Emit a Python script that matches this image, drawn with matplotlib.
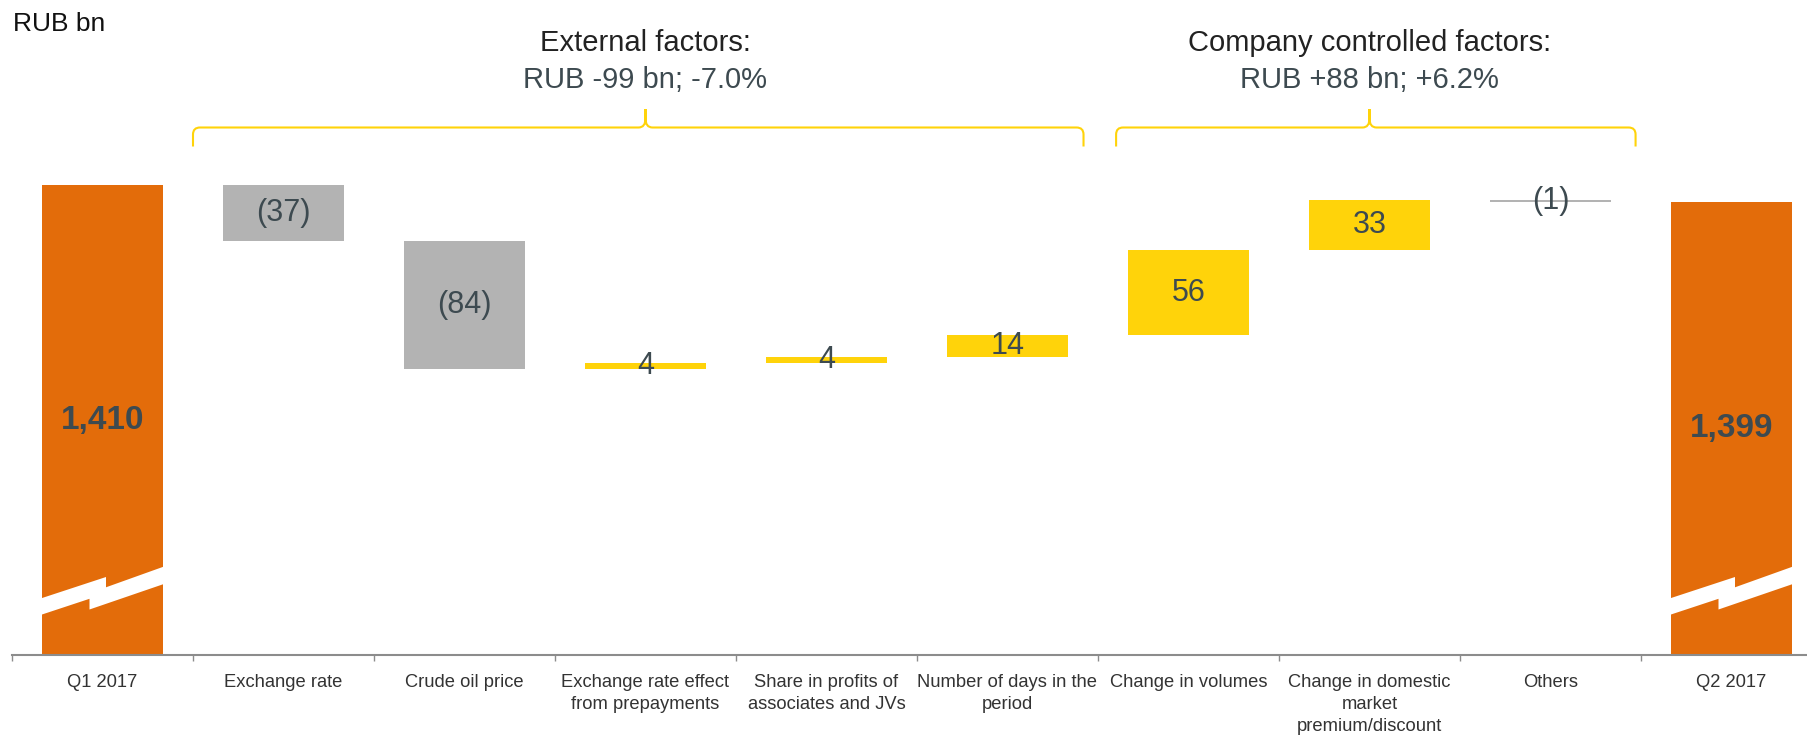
import numpy as np
import matplotlib
matplotlib.use("Agg")
import matplotlib.pyplot as plt
from matplotlib import font_manager, transforms
from matplotlib.path import Path
from matplotlib.patches import PathPatch, Polygon

# revenue bridge, RUB bn
categories = ["Q1 2017", "Exchange rate", "Crude oil price",
              "Exchange rate effect\nfrom prepayments",
              "Share in profits of\nassociates and JVs",
              "Number of days in the\nperiod", "Change in volumes",
              "Change in domestic\nmarket\npremium/discount",
              "Others", "Q2 2017"]
values = [1410, -37, -84, 4, 4, 14, 56, 33, -1, 1399]
is_total = [True, False, False, False, False, False, False, False, False, True]

groups = ["External factors:", "Company controlled factors:"]
group_totals = ["RUB -99 bn; -7.0%", "RUB +88 bn; +6.2%"]

ORANGE = "#E36C0A"
YELLOW = "#FFD30A"
GREY = "#B3B3B3"
TEXT = "#3D4A50"

names = {f.name for f in font_manager.fontManager.ttflist}
if "Liberation Sans Narrow" in names:
    narrow, narrow_size = "Liberation Sans Narrow", 15.4
else:
    narrow, narrow_size = "Liberation Sans", 13.2
plt.rcParams["font.family"] = ["Liberation Sans", "DejaVu Sans"]

W, H = 1808, 741
fig = plt.figure(figsize=(W / 100, H / 100), dpi=100)
ax_left, ax_bottom, ax_h = 12, 655, 655
ax = fig.add_axes([ax_left / W, (H - ax_bottom) / H, (W - ax_left) / W, ax_h / H])

px_per_unit = 1.52
px_per_cat = 181
floor = 1410 - (655 - 185) / px_per_unit   # value at the cut axis
ax.set_ylim(floor, floor + ax_h / px_per_unit)
ax.set_xlim(-0.5, -0.5 + (W - ax_left) / px_per_cat)

# waterfall geometry
x = np.arange(len(categories))
bottoms, heights, colors = [], [], []
level = 0
for v, tot in zip(values, is_total):
    if tot:
        bottoms.append(floor)
        heights.append(v - floor)
        colors.append(ORANGE)
        level = v
    else:
        bottoms.append(level if v > 0 else level + v)
        heights.append(abs(v))
        colors.append(YELLOW if v > 0 else GREY)
        level += v

ax.bar(x, heights, bottom=bottoms, width=0.67, color=colors, linewidth=0, zorder=2)

for xi, v, tot, b, h in zip(x, values, is_total, bottoms, heights):
    yc = b + h / 2
    if tot:
        ax.text(xi, yc, f"{v:,}", ha="center", va="center", fontsize=24,
                fontweight="bold", color=TEXT, zorder=4)
    else:
        label = f"({abs(v)})" if v < 0 else f"{v}"
        ax.text(xi, yc, label, ha="center", va="center", fontsize=22,
                color=TEXT, zorder=4)

# axis break on the total bars (pixel offsets from bar centre)
brk = [(-66.5, 600), (3.5, 577), (3.5, 587.3), (70.5, 563.3),
       (71, 580.7), (-13, 609.5), (-13, 598.8), (-62, 615)]
for xi, tot in zip(x, is_total):
    if tot:
        pts = [(xi + dx / px_per_cat, floor + (ax_bottom - py) / px_per_unit)
               for dx, py in brk]
        ax.add_patch(Polygon(pts, closed=True, facecolor="white",
                             edgecolor="none", zorder=3))

# axis styling
for s in ["left", "right", "top"]:
    ax.spines[s].set_visible(False)
ax.spines["bottom"].set_color("#8C8C8C")
ax.spines["bottom"].set_linewidth(1.5)
ax.set_yticks([])
ax.set_xticks(x)
ax.set_xticklabels(categories, fontsize=narrow_size, family=narrow,
                   color="#333333", linespacing=1.38)
ax.tick_params(axis="x", which="major", length=0, pad=14)
ax.set_xticks(np.arange(-0.5, len(categories) - 0.5), minor=True)
ax.tick_params(axis="x", which="minor", length=4.5, width=1, color="#8C8C8C")

# group brackets above the bars
trans = transforms.blended_transform_factory(ax.transData, fig.transFigure)


def fy(py):
    return 1 - py / H


def bracket(xl, xr, xc, y=127.5, y_end=146.5, y_peak=109, r=7):
    rx = r / px_per_cat
    verts = [(xl, fy(y_end)), (xl, fy(y + r)), (xl, fy(y)), (xl + rx, fy(y)),
             (xc - rx, fy(y)), (xc, fy(y)), (xc, fy(y - 9)), (xc, fy(y_peak)),
             (xc, fy(y_peak)), (xc, fy(y - 9)), (xc, fy(y)), (xc + rx, fy(y)),
             (xr - rx, fy(y)), (xr, fy(y)), (xr, fy(y + r)), (xr, fy(y_end))]
    codes = [Path.MOVETO, Path.LINETO, Path.CURVE3, Path.CURVE3,
             Path.LINETO, Path.CURVE3, Path.CURVE3, Path.LINETO,
             Path.MOVETO, Path.LINETO, Path.CURVE3, Path.CURVE3,
             Path.LINETO, Path.CURVE3, Path.CURVE3, Path.LINETO]
    fig.add_artist(PathPatch(Path(verts, codes), transform=trans, fill=False,
                             edgecolor=YELLOW, linewidth=1.5))


bracket(0.5, 5.42, 3.0)
bracket(5.6, 8.47, 7.0)

for xc, head, sub in zip([3.0, 7.0], groups, group_totals):
    fig.text(xc, fy(43), head, transform=trans, ha="center", va="center",
             fontsize=21, color="#222222")
    fig.text(xc, fy(80), sub, transform=trans, ha="center", va="center",
             fontsize=21, color=TEXT)

fig.text(13 / W, fy(24), "RUB bn", ha="left", va="center", fontsize=19,
         color="#111111")

fig.savefig("out.png", dpi=100)
